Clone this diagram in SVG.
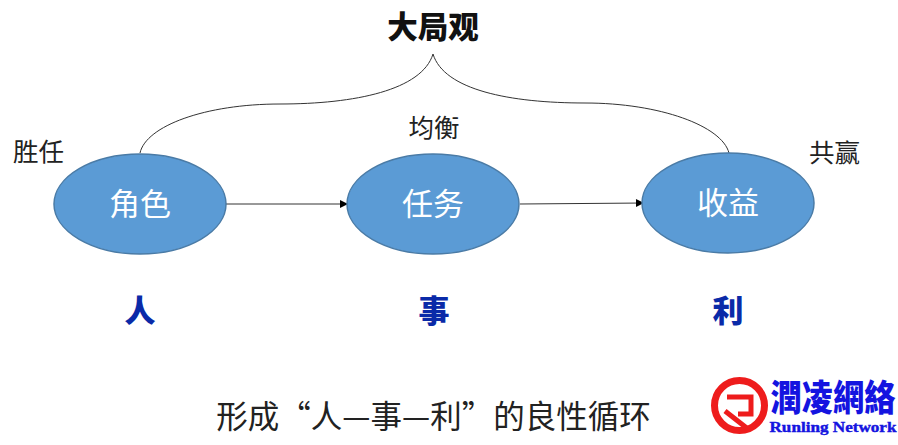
<svg xmlns="http://www.w3.org/2000/svg" width="898" height="445" viewBox="0 0 898 445">
  <style>
    text { font-family: "Noto Sans CJK SC", "Noto Sans", sans-serif; text-anchor: middle; }
    .oval { fill: #5b9bd5; stroke: #4a7ba6; stroke-width: 1.5; }
    .in { font-size: 31px; fill: #ffffff; }
    .side { font-size: 25.5px; fill: #222222; }
    .key { font-size: 31px; font-weight: 900; fill: #0a2aa8; }
    .link { fill: none; stroke: #333333; stroke-width: 1; }
    .brand { font-family: "Noto Sans CJK TC", sans-serif; font-size: 31px; font-weight: 900; fill: #1414e0; }
  </style>
  <defs>
    <marker id="arrow" markerUnits="userSpaceOnUse" markerWidth="10" markerHeight="10" refX="9" refY="5" orient="auto">
      <path d="M1 1 L9 5 L1 9 Z" fill="#000000"/>
    </marker>
  </defs>
  <rect width="898" height="445" fill="#ffffff"/>

  <g id="connectors">
    <path class="link" d="M140 153 C146 126 205 104 280 104 C355 104 422 90 433 54 C444 90 510 103 585 103 C660 103 722 126 729 153"/>
    <path class="link" d="M226 204 L348 204" marker-end="url(#arrow)"/>
    <path class="link" d="M520 204 L644 203" marker-end="url(#arrow)"/>
  </g>

  <g id="title"><text x="433" y="38" font-size="30.5" font-weight="900" fill="#111111">大局观</text></g>

  <g id="role">
    <ellipse class="oval" cx="140" cy="204" rx="86" ry="50"/>
    <text class="in" x="140" y="215">角色</text>
  </g>
  <g id="task">
    <ellipse class="oval" cx="433" cy="204" rx="86" ry="50"/>
    <text class="in" x="433" y="215">任务</text>
  </g>
  <g id="gain">
    <ellipse class="oval" cx="728" cy="203" rx="86" ry="50"/>
    <text class="in" x="728" y="214">收益</text>
  </g>

  <g id="label-fit"><text class="side" x="38.5" y="161">胜任</text></g>
  <g id="label-balance"><text class="side" x="434" y="137">均衡</text></g>
  <g id="label-winwin"><text class="side" x="834.5" y="162">共赢</text></g>

  <g id="key-people"><text class="key" x="140" y="322">人</text></g>
  <g id="key-matter"><text class="key" x="434" y="322">事</text></g>
  <g id="key-benefit"><text class="key" x="728" y="322">利</text></g>

  <g id="caption"><text x="433.5" y="428" font-size="31.5" fill="#222222">形成“人—事—利”的良性循环</text></g>

  <g id="logo">
    <circle cx="739.5" cy="405.5" r="25" fill="none" stroke="#ee1c1c" stroke-width="7"/>
    <path d="M727 397 H751 V414 H738 M725 411 L748 429" fill="none" stroke="#ee1c1c" stroke-width="5"/>
    <text class="brand" transform="translate(833 411) scale(1 1.18)" textLength="125" lengthAdjust="spacingAndGlyphs">潤凌網絡</text>
    <text x="833" y="432" font-size="14" font-weight="700" fill="#1414e0" stroke="#1414e0" stroke-width="0.4" textLength="127" lengthAdjust="spacingAndGlyphs" style="font-family:'Liberation Serif',serif">Runling Network</text>
  </g>
</svg>
